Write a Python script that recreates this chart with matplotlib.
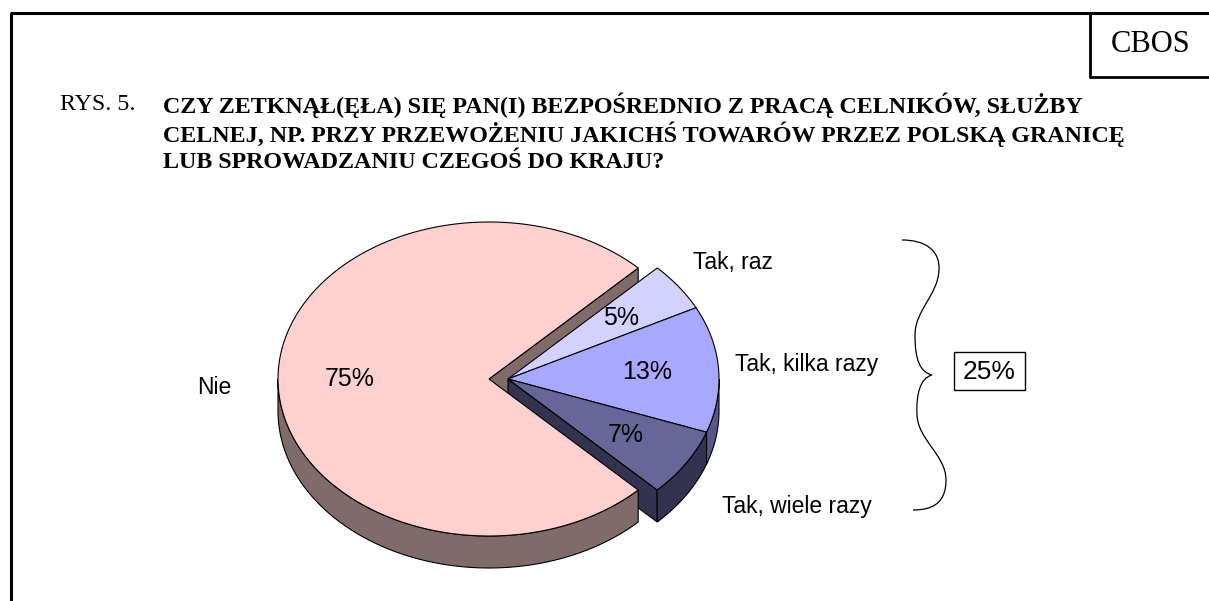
import numpy as np
import matplotlib
matplotlib.use("Agg")
import matplotlib.pyplot as plt
from matplotlib.patches import Polygon, Rectangle, PathPatch
from matplotlib.path import Path

# ---- data (clockwise order starting at 45 degrees) ----
categories = ["Tak, raz", "Tak, kilka razy", "Tak, wiele razy", "Nie"]
values = [5, 13, 7, 75]
pct_labels = ["5%", "13%", "7%", "75%"]
group_total_label = "25%"
title_prefix = "RYS. 5."
title_lines = [
    "CZY ZETKNĄŁ(ĘŁA) SIĘ PAN(I) BEZPOŚREDNIO Z PRACĄ CELNIKÓW, SŁUŻBY",
    "CELNEJ, NP. PRZY PRZEWOŻENIU JAKICHŚ TOWARÓW PRZEZ POLSKĄ GRANICĘ",
    "LUB SPROWADZANIU CZEGOŚ DO KRAJU?",
]
source_label = "CBOS"

# ---- style ----
top_colors = ["#D2D2FF", "#A8A8FF", "#666699", "#FFD0D0"]
side_colors = ["#6A6A99", "#57578A", "#33334F", "#806B6B"]
explode_dx = [9.5, 9.5, 9.5, -9.5]
CX, CY = 498.5, 379
RX, RY = 211, 157
DEPTH = 32
START = 45.0
label_pos = {"Tak, raz": (693, 263), "Tak, kilka razy": (735, 364),
             "Tak, wiele razy": (722, 506), "Nie": (197, 388)}

W, H = 1209, 601
fig = plt.figure(figsize=(W / 100, H / 100), dpi=100)
ax = fig.add_axes([0, 0, 1, 1])
ax.set_xlim(0, W)
ax.set_ylim(H, 0)
ax.axis("off")

SANS = "Liberation Sans"
SERIF = "Liberation Serif"
EC = "black"
LW = 0.8


def pt(cx, cy, th, dz=0.0):
    t = np.deg2rad(th)
    return (cx + RX * np.cos(t), cy - RY * np.sin(t) + dz)


def arc(cx, cy, a1, a2, dz=0.0, n=80):
    ths = np.linspace(a1, a2, n)
    return [pt(cx, cy, th, dz) for th in ths]


# slice angles (clockwise from START)
total = float(sum(values))
angles = []
a = START
for v in values:
    span = 360.0 * v / total
    angles.append((a - span, a))  # (low, high) in CCW terms
    a -= span

centers = [(CX + dx, CY) for dx in explode_dx]

# ---- side faces (drawn first) ----
i_nie = 3
cxn, cyn = centers[i_nie]
p_edge = pt(cxn, cyn, START)
ax.add_patch(Polygon([(cxn, cyn), p_edge, (p_edge[0], p_edge[1] + DEPTH), (cxn, cyn + DEPTH)],
                     closed=True, fc=side_colors[i_nie], ec=EC, lw=LW, zorder=1))
i_w = 2
cxt, cyt = centers[i_w]
lo_t = angles[i_w][0]
p_edge = pt(cxt, cyt, lo_t)
ax.add_patch(Polygon([(cxt, cyt), p_edge, (p_edge[0], p_edge[1] + DEPTH), (cxt, cyt + DEPTH)],
                     closed=True, fc=side_colors[i_w], ec=EC, lw=LW, zorder=1))

# outer walls: visible for angles 180..360
for i, (lo, hi) in enumerate(angles):
    cx, cy = centers[i]
    for off in (-360, 0, 360):
        a1, a2 = lo + off, hi + off
        v1, v2 = max(a1, 180), min(a2, 360)
        if v2 > v1:
            top = arc(cx, cy, v1, v2)
            bot = arc(cx, cy, v2, v1, DEPTH)
            ax.add_patch(Polygon(top + bot, closed=True, fc=side_colors[i], ec=EC, lw=LW, zorder=2))

# ---- top faces ----
for i, (lo, hi) in enumerate(angles):
    cx, cy = centers[i]
    verts = [(cx, cy)] + arc(cx, cy, lo, hi, n=200)
    ax.add_patch(Polygon(verts, closed=True, fc=top_colors[i], ec=EC, lw=LW, zorder=3))

# ---- percentage labels ----
for i, (lo, hi) in enumerate(angles):
    cx, cy = centers[i]
    mid = 0.5 * (lo + hi)
    t = np.deg2rad(mid)
    x = cx + 0.66 * RX * np.cos(t)
    y = cy - 0.66 * RY * np.sin(t)
    ax.text(x, y, pct_labels[i], ha="center", va="center", fontsize=18,
            family=SANS, color="black", zorder=5)

# ---- category labels ----
for name in categories:
    x, y = label_pos[name]
    ax.text(x, y, name, ha="left", va="center", fontsize=16.5, family=SANS,
            color="black", zorder=5)

# ---- brace ----
bz = [
    (902, 240),
    (925, 240), (940, 250), (939, 270),
    (938, 295), (915, 310), (915, 335),
    (915, 360), (920, 372), (932, 375),
    (920, 378), (916, 395), (917, 415),
    (918, 440), (946, 455), (946, 480),
    (946, 505), (930, 510), (913, 510),
]
codes = [Path.MOVETO] + [Path.CURVE4] * (len(bz) - 1)
ax.add_patch(PathPatch(Path(bz, codes), fc="none", ec="black", lw=0.9, zorder=5))

# 25% box
ax.add_patch(Rectangle((954, 352), 71, 38, fc="white", ec="black", lw=1.0, zorder=5))
ax.text(989.5, 372, group_total_label, ha="center", va="center", fontsize=19,
        family=SANS, zorder=6)

# ---- frame ----
ax.plot([11, 11], [13, H], color="black", lw=2.2, solid_capstyle="butt")
ax.plot([10, W], [13, 13], color="black", lw=2.2, solid_capstyle="butt")
ax.plot([1090, 1090], [13, 77], color="black", lw=2.0, solid_capstyle="butt")
ax.plot([1089, W], [77, 77], color="black", lw=2.0, solid_capstyle="butt")
ax.text(1151, 45, source_label, ha="center", va="center", fontsize=22, family=SERIF)

# ---- title ----
TY0, TDY = 105, 29
ax.text(60, TY0, title_prefix, ha="left", va="center", fontsize=17.3, family=SERIF)
for k, line in enumerate(title_lines):
    ax.text(163, TY0 + TDY * k, line, ha="left", va="center", fontsize=17.3,
            family=SERIF, fontweight="bold")

fig.savefig("out.png", dpi=100)
